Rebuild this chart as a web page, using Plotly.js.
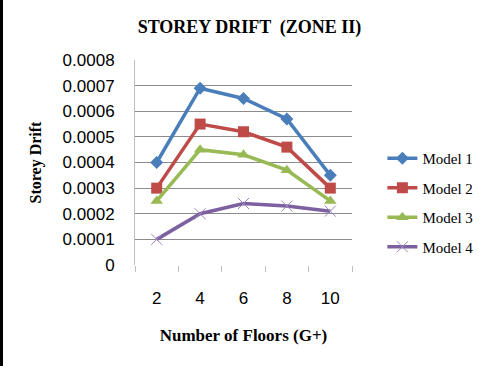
<!DOCTYPE html>
<html><head><meta charset="utf-8">
<script src="https://cdn.plot.ly/plotly-3.0.1.min.js"></script>
<style>
html,body{margin:0;padding:0;background:#fff;}
#wrap{position:relative;width:499px;height:366px;}
#chart{width:499px;height:366px;}
#edge{position:absolute;left:0;top:0;width:3px;height:366px;background:#000;}
</style></head>
<body><div id="wrap"><div id="chart"></div><div id="edge"></div></div>
<script>
const floors = [2, 4, 6, 8, 10];
const model1 = [0.0004, 0.00069, 0.00065, 0.00057, 0.00035];
const model2 = [0.0003, 0.00055, 0.00052, 0.00046, 0.0003];
const model3 = [0.00025, 0.00045, 0.00043, 0.00037, 0.00025];
const model4 = [0.0001, 0.0002, 0.00024, 0.00023, 0.00021];
const names = ['Model 1', 'Model 2', 'Model 3', 'Model 4'];
const yTicks = [0, 0.0001, 0.0002, 0.0003, 0.0004, 0.0005, 0.0006, 0.0007, 0.0008];
const yTickText = ['0', '0.0001', '0.0002', '0.0003', '0.0004', '0.0005', '0.0006', '0.0007', '0.0008'];
const boundaries = [1, 3, 5, 7, 9, 11];

const styles = [
  {color:'#4A7EBB', symbol:'diamond', size:10, lw:0},
  {color:'#BE4B48', symbol:'square', size:11, lw:0},
  {color:'#98B954', symbol:'triangle-up', size:11, lw:0},
  {color:'#7D60A0', symbol:'x-thin', size:11, lw:1}
];
const series = [model1, model2, model3, model4];
const traces = series.map((s, i) => ({
  x: floors, y: s, name: names[i], type: 'scatter', mode: 'lines+markers',
  legendgroup: 'g' + i,
  line: {color: styles[i].color, width: 3.5},
  marker: {symbol: styles[i].symbol, size: styles[i].size, color: styles[i].color,
           line: {color: i === 3 ? '#9a86c0' : styles[i].color, width: styles[i].lw}}
}));
traces.push({x: boundaries, y: boundaries.map(() => 0), xaxis: 'x2', type: 'scatter', mode: 'none', showlegend: false, hoverinfo: 'skip'});

const layout = {
  width: 499, height: 366,
  margin: {l: 135, r: 147, t: 60, b: 101},
  paper_bgcolor: '#fff', plot_bgcolor: '#fff',
  title: {text: 'STOREY DRIFT  (ZONE II)', x: 0.5, xanchor: 'center', y: 0.928, yanchor: 'middle',
          font: {family: 'Liberation Serif, DejaVu Serif, serif', size: 18, color: '#000', weight: 'bold'}},
  xaxis: {range: [1, 11], tickvals: floors, ticktext: floors.map(String), ticks: '',
          showgrid: false, zeroline: false, showline: false, ticklabelstandoff: 21,
          tickfont: {family: 'Liberation Sans, Arial, sans-serif', size: 17, color: '#000'},
          title: {text: 'Number of Floors (G+)', standoff: 22,
                  font: {family: 'Liberation Serif, DejaVu Serif, serif', size: 17, color: '#000', weight: 'bold'}}},
  xaxis2: {range: [1, 11], overlaying: 'x', tickvals: boundaries, showticklabels: false,
           ticks: 'outside', ticklen: 6, tickwidth: 1, tickcolor: '#BFBFBF', side: 'bottom',
           showgrid: false, zeroline: false, showline: false},
  yaxis: {range: [0, 0.0008], tickvals: yTicks, ticktext: yTickText, ticks: '',
          showgrid: true, gridcolor: '#8C8C8C', gridwidth: 1, zeroline: false,
          showline: true, linecolor: '#BFBFBF', linewidth: 1, ticklabelstandoff: 16,
          tickfont: {family: 'Liberation Sans, Arial, sans-serif', size: 17, color: '#000'},
          title: {text: 'Storey Drift', standoff: 16,
                  font: {family: 'Liberation Serif, DejaVu Serif, serif', size: 16, color: '#000', weight: 'bold'}}},
  showlegend: true,
  legend: {x: 1.14, xanchor: 'left', y: 0.60, yanchor: 'top', tracegroupgap: 7,
           font: {family: 'Liberation Serif, DejaVu Serif, serif', size: 15, color: '#000'},
           bgcolor: 'rgba(0,0,0,0)'}
};
Plotly.newPlot('chart', traces, layout, {displayModeBar: false, staticPlot: true});
</script></body></html>
